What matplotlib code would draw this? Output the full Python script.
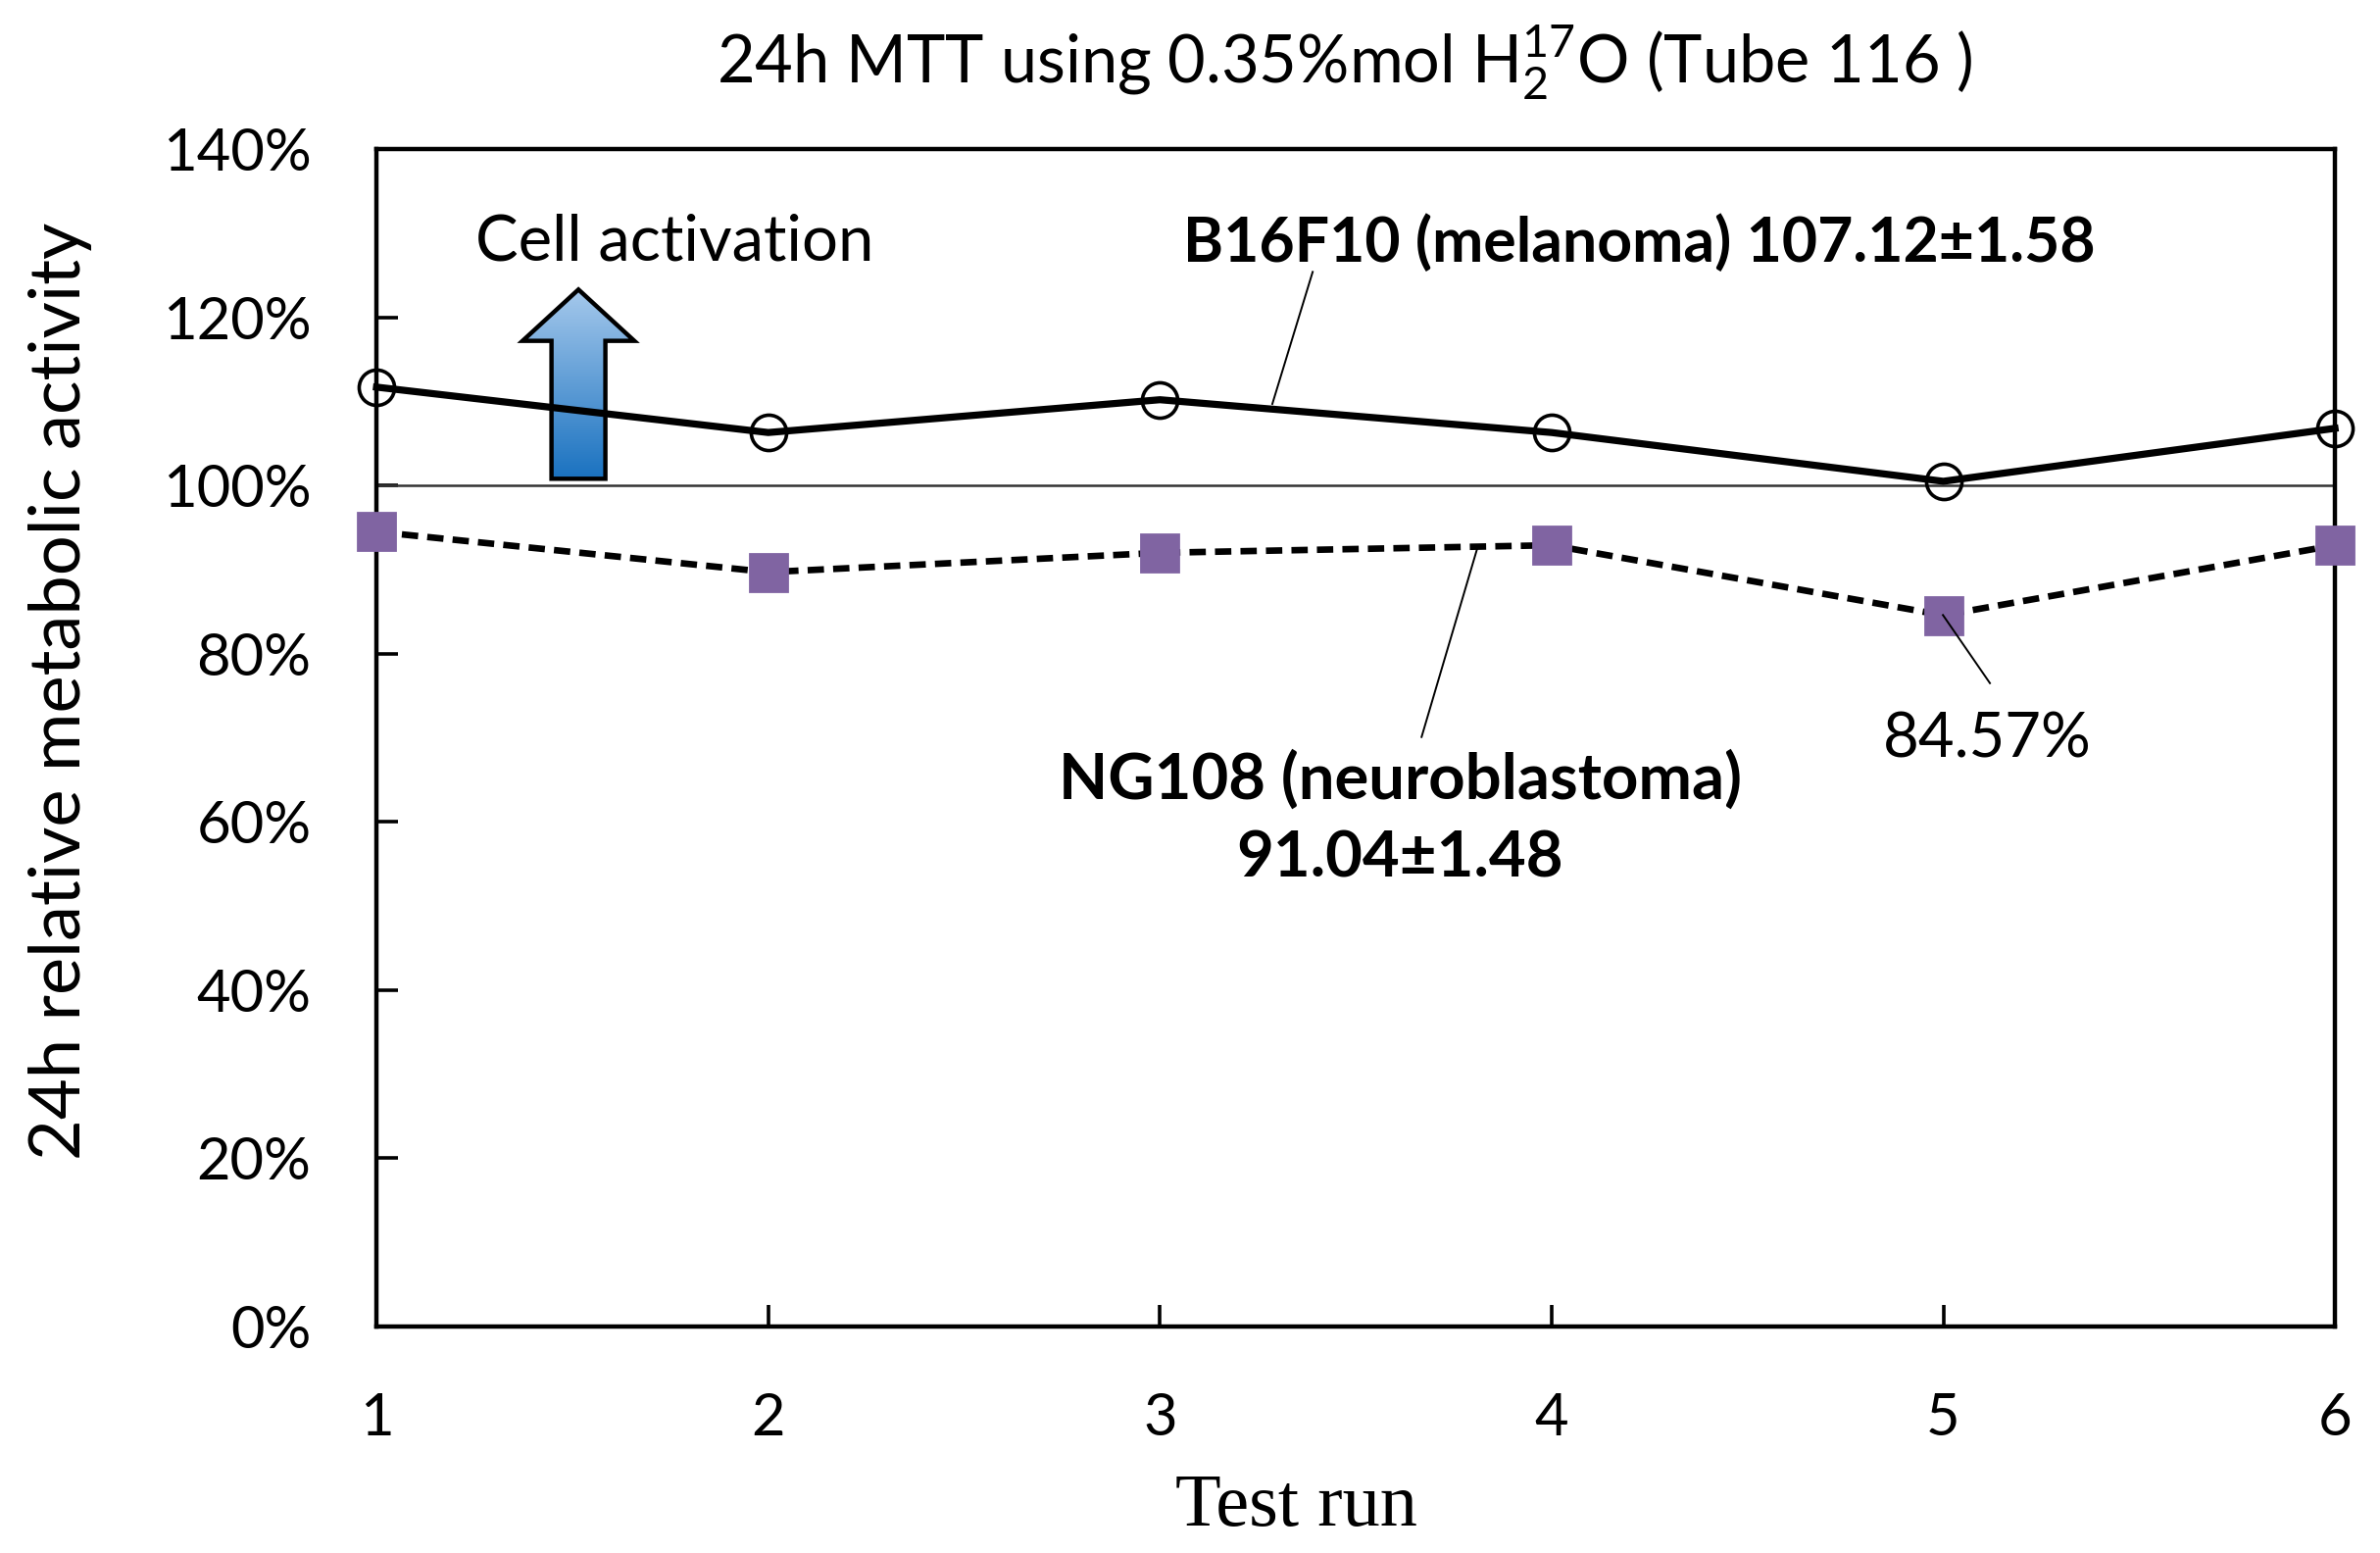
import numpy as np
import matplotlib
matplotlib.use("Agg")
import matplotlib.pyplot as plt
from matplotlib.patches import Polygon
from matplotlib.colors import LinearSegmentedColormap

plt.rcParams['font.family'] = ['Lato', 'DejaVu Sans']
plt.rcParams['mathtext.fontset'] = 'custom'
plt.rcParams['mathtext.rm'] = 'Lato'
plt.rcParams['mathtext.it'] = 'Lato:italic'
plt.rcParams['mathtext.bf'] = 'Lato:bold'

# donnees
runs = [1, 2, 3, 4, 5, 6]
b16f10 = [111.7, 106.3, 110.2, 106.3, 100.5, 106.8]
ng108 = [94.5, 89.7, 92.0, 92.9, 84.57, 92.9]
yticks = [0, 20, 40, 60, 80, 100, 120, 140]
ytick_labels = [f"{v}%" for v in yticks]

titre = r"24h MTT using 0.35%mol H$_{\mathregular{2}}^{\mathregular{17}}$O (Tube 116 )"

fig = plt.figure(figsize=(12.14, 7.92), dpi=200)
ax = fig.add_axes([0.1582, 0.1458, 0.8229, 0.7582])

# ligne de reference 100%
ax.axhline(100, color='#333333', lw=0.9, zorder=2)

# fleche "Cell activation" avec degrade
cx = 1.5155
sw, hw = 0.0688, 0.1426
y_bas, y_tete, y_pointe = 100.8, 117.2, 123.3
pts = [(cx - sw, y_bas), (cx + sw, y_bas), (cx + sw, y_tete), (cx + hw, y_tete),
       (cx, y_pointe), (cx - hw, y_tete), (cx - sw, y_tete)]
fleche = Polygon(pts, closed=True, facecolor='none', edgecolor='black', lw=1.6, zorder=4)
ax.add_patch(fleche)
cmap = LinearSegmentedColormap.from_list('bleu', ['#1a72c0', '#a6c9ec'])
grad = np.linspace(0, 1, 256).reshape(-1, 1)
im = ax.imshow(grad, cmap=cmap, origin='lower', aspect='auto',
               extent=[cx - hw, cx + hw, y_bas, y_pointe], zorder=3)
im.set_clip_path(fleche)

# series
ax.plot(runs, b16f10, color='black', lw=2.6, marker='o', markersize=13,
        markerfacecolor='none', markeredgecolor='black', markeredgewidth=1.3,
        clip_on=False, zorder=5)
ax.plot(runs, ng108, color='black', lw=2.4, dashes=(2.5, 1.4), marker='s', markersize=13.5,
        markerfacecolor='#8064a2', markeredgecolor='#8064a2', clip_on=False, zorder=5)

ax.set_xlim(1, 6)
ax.set_ylim(0, 140)
ax.set_xticks(runs)
ax.set_yticks(yticks)
ax.set_yticklabels(ytick_labels)
ax.tick_params(direction='in', length=8, width=1.3, labelsize=21.5)
ax.tick_params(axis='y', pad=24)
ax.tick_params(axis='x', pad=24)
for s in ax.spines.values():
    s.set_linewidth(1.6)

# annotations
ax.text(1.253, 126.8, "Cell activation", fontsize=23.5, va='baseline', ha='left')
ax.text(4.223, 126.6, "B16F10 (melanoma) 107.12\u00b11.58", fontsize=22.5, fontweight='bold',
        va='baseline', ha='center')
ax.plot([3.390, 3.287], [125.4, 109.7], color='black', lw=0.7, zorder=3)
ax.text(3.613, 62.7, "NG108 (neuroblastoma)", fontsize=23.5, fontweight='bold',
        va='baseline', ha='center')
ax.text(3.613, 53.4, "91.04\u00b11.48", fontsize=23.5, fontweight='bold',
        va='baseline', ha='center')
ax.plot([3.810, 3.668], [92.5, 70.1], color='black', lw=0.7, zorder=3)
ax.text(5.112, 67.7, "84.57%", fontsize=22.8, va='baseline', ha='center')
ax.plot([4.999, 5.119], [84.6, 76.5], color='black', lw=0.7, zorder=6)

fig.text(0.565, 1 - 85 / 1584, titre, fontsize=24, ha='center', va='baseline')
fig.text(62 / 2428, 0.555, "24h relative metabolic activity", fontsize=26,
         rotation=90, ha='center', va='center')
fig.text(1322 / 2428, 1 - 1556 / 1584, "Test run", fontsize=27.5,
         family=['Liberation Serif', 'DejaVu Serif'], ha='center', va='baseline')

plt.savefig("out.png", dpi=200)
